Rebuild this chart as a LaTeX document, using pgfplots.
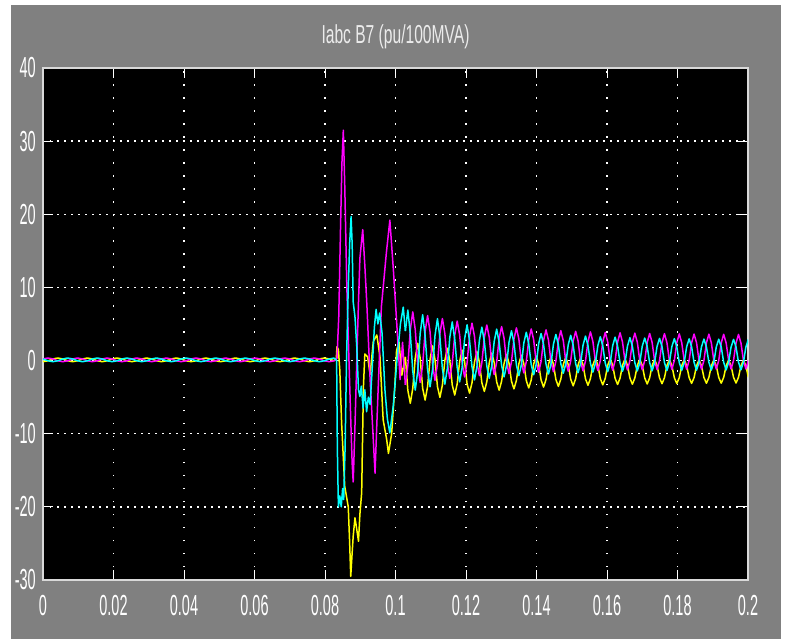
\documentclass[border=0pt]{standalone}
\usepackage{fontspec}
\setmainfont{Liberation Sans}
\newfontfamily\titlefont[FakeStretch=0.6]{Liberation Sans}
\newfontfamily\tickfont[FakeStretch=0.5]{Liberation Sans}
\usepackage{pgfplots}
\usepackage{pgfplotstable}
\pgfplotsset{compat=1.18}
\definecolor{scopegray}{RGB}{128,128,128}
\definecolor{sye}{RGB}{255,255,0}
\definecolor{sma}{RGB}{255,0,255}
\definecolor{scy}{RGB}{0,255,255}

\pgfplotstableread{
t ma cy ye
0.0000 0.22 0.22 -0.15
0.0014 0.35 -0.03 -0.03
0.0028 0.22 -0.15 0.22
0.0042 -0.03 -0.03 0.35
0.0056 -0.15 0.22 0.22
0.0070 -0.03 0.35 -0.03
0.0084 0.22 0.22 -0.15
0.0098 0.35 -0.03 -0.03
0.0112 0.22 -0.15 0.22
0.0126 -0.03 -0.03 0.35
0.0140 -0.15 0.22 0.22
0.0154 -0.03 0.35 -0.03
0.0168 0.22 0.22 -0.15
0.0182 0.35 -0.03 -0.03
0.0196 0.22 -0.15 0.22
0.0210 -0.03 -0.03 0.35
0.0224 -0.15 0.22 0.22
0.0238 -0.03 0.35 -0.03
0.0252 0.22 0.22 -0.15
0.0266 0.35 -0.03 -0.03
0.0280 0.22 -0.15 0.22
0.0294 -0.03 -0.03 0.35
0.0308 -0.15 0.22 0.22
0.0322 -0.03 0.35 -0.03
0.0336 0.22 0.22 -0.15
0.0350 0.35 -0.03 -0.03
0.0364 0.22 -0.15 0.22
0.0378 -0.03 -0.03 0.35
0.0392 -0.15 0.22 0.22
0.0406 -0.03 0.35 -0.03
0.0420 0.22 0.22 -0.15
0.0434 0.35 -0.03 -0.03
0.0448 0.22 -0.15 0.22
0.0462 -0.03 -0.03 0.35
0.0476 -0.15 0.22 0.22
0.0490 -0.03 0.35 -0.03
0.0504 0.22 0.22 -0.15
0.0518 0.35 -0.03 -0.03
0.0532 0.22 -0.15 0.22
0.0546 -0.03 -0.03 0.35
0.0560 -0.15 0.22 0.22
0.0574 -0.03 0.35 -0.03
0.0588 0.22 0.22 -0.15
0.0602 0.35 -0.03 -0.03
0.0616 0.22 -0.15 0.22
0.0630 -0.03 -0.03 0.35
0.0644 -0.15 0.22 0.22
0.0658 -0.03 0.35 -0.03
0.0672 0.22 0.22 -0.15
0.0686 0.35 -0.03 -0.03
0.0700 0.22 -0.15 0.22
0.0714 -0.03 -0.03 0.35
0.0728 -0.15 0.22 0.22
0.0742 -0.03 0.35 -0.03
0.0756 0.22 0.22 -0.15
0.0770 0.35 -0.03 -0.03
0.0784 0.22 -0.15 0.22
0.0798 -0.03 -0.03 0.35
0.0812 -0.15 0.22 0.22
0.0826 -0.03 0.35 -0.03
}\prefault

\pgfplotstableread{
t v
0.0826 -0.03
0.0834 0.3
0.0839 6
0.0844 18
0.0848 27
0.0852 31.5
0.0856 24
0.0862 10
0.0868 0
0.0873 -8
0.0877 -14
0.0880 -16.6
0.0885 -9
0.0891 1.4
0.0895 8
0.0899 14
0.0907 17.9
0.0913 13
0.0919 7.4
0.0928 -2.6
0.0935 -9
0.0942 -15.4
0.0946 -10
0.0951 -3.6
0.0960 7.4
0.0967 11
0.0974 14.7
0.0984 19.2
0.0994 12.4
0.1003 5.5
0.1013 -2.6
0.1020 2.5
0.1028 -3.33
}\trma

\pgfplotstableread{
t v
0.0826 0.35
0.0833 0
0.0835 -12
0.0838 -20
0.0842 -18.5
0.0846 -20
0.0850 -17.5
0.0853 -19
0.0857 -12
0.0861 0
0.0866 10
0.0870 16
0.0874 19.7
0.0877 16
0.0880 8
0.0885 6
0.0890 2
0.0895 -4
0.0899 -4.9
0.0903 -3.5
0.0908 -6.5
0.0913 -4
0.0918 -7
0.0923 -5
0.0928 -6
0.0934 -1
0.0940 4.5
0.0945 7
0.0950 5
0.0955 6.5
0.0962 3.7
0.0970 -4
0.0977 -8
0.0984 -9.9
0.0994 -6
0.1004 0
0.1014 5
0.1022 7.3
0.1028 4.04
}\trcy

\pgfplotstableread{
t v
0.0826 -0.03
0.0832 0.3
0.0834 1.9
0.0838 1.5
0.0842 -1.3
0.0847 -8.4
0.0856 -17.2
0.0866 -20
0.0870 -25
0.0873 -29.5
0.0877 -26.3
0.0880 -24
0.0885 -21.5
0.0888 -22.4
0.0895 -24.7
0.0899 -21
0.0904 -18.1
0.0909 -3.6
0.0913 0.9
0.0921 0.5
0.0928 -1.9
0.0937 2.6
0.0947 3.5
0.0956 0.5
0.0965 -8.1
0.0975 -10.8
0.0980 -12.7
0.0989 -10
0.0998 -3.6
0.1003 1.4
0.1010 2.5
0.1018 -2
0.1028 0.51
}\trye

\pgfplotstableread{
t ma cy ye
0.1028 -3.33 4.04 0.51
0.1035 -0.69 6.90 -4.07
0.1042 4.24 3.70 -5.84
0.1049 6.65 -1.46 -3.79
0.1056 4.24 -4.03 0.31
0.1063 -0.58 -1.46 2.36
0.1070 -2.99 3.70 0.31
0.1077 -0.58 6.27 -3.79
0.1084 3.95 3.40 -5.40
0.1091 6.16 -1.26 -3.55
0.1098 3.95 -3.59 0.15
0.1105 -0.49 -1.26 2.00
0.1112 -2.70 3.40 0.15
0.1119 -0.49 5.73 -3.55
0.1126 3.70 3.16 -5.03
0.1133 5.75 -1.10 -3.35
0.1140 3.70 -3.22 0.01
0.1147 -0.40 -1.10 1.69
0.1154 -2.45 3.16 0.01
0.1161 -0.40 5.28 -3.35
0.1168 3.49 2.94 -4.71
0.1175 5.40 -0.96 -3.18
0.1182 3.49 -2.91 -0.11
0.1189 -0.33 -0.96 1.43
0.1196 -2.24 2.94 -0.11
0.1203 -0.33 4.89 -3.18
0.1210 3.32 2.77 -4.45
0.1217 5.11 -0.85 -3.04
0.1224 3.32 -2.65 -0.21
0.1231 -0.28 -0.85 1.21
0.1238 -2.07 2.77 -0.21
0.1245 -0.28 4.57 -3.04
0.1252 3.17 2.62 -4.22
0.1259 4.86 -0.74 -2.91
0.1266 3.17 -2.42 -0.29
0.1273 -0.23 -0.74 1.02
0.1280 -1.92 2.62 -0.29
0.1287 -0.23 4.30 -2.91
0.1294 3.04 2.50 -4.04
0.1301 4.65 -0.66 -2.82
0.1308 3.04 -2.23 -0.37
0.1315 -0.18 -0.66 0.86
0.1322 -1.79 2.50 -0.37
0.1329 -0.18 4.07 -2.82
0.1336 2.93 2.39 -3.87
0.1343 4.47 -0.59 -2.72
0.1350 2.93 -2.07 -0.42
0.1357 -0.15 -0.59 0.73
0.1364 -1.69 2.39 -0.42
0.1371 -0.15 3.87 -2.72
0.1378 2.84 2.29 -3.74
0.1385 4.32 -0.53 -2.65
0.1392 2.84 -1.94 -0.47
0.1399 -0.12 -0.53 0.62
0.1406 -1.60 2.29 -0.47
0.1413 -0.12 3.70 -2.65
0.1420 2.77 2.22 -3.62
0.1427 4.20 -0.48 -2.59
0.1434 2.77 -1.83 -0.52
0.1441 -0.09 -0.48 0.52
0.1448 -1.52 2.22 -0.52
0.1455 -0.09 3.57 -2.59
0.1462 2.71 2.16 -3.53
0.1469 4.09 -0.44 -2.54
0.1476 2.71 -1.73 -0.55
0.1483 -0.07 -0.44 0.45
0.1490 -1.45 2.16 -0.55
0.1497 -0.07 3.45 -2.54
0.1504 2.65 2.10 -3.45
0.1511 4.00 -0.40 -2.50
0.1518 2.65 -1.65 -0.59
0.1525 -0.05 -0.40 0.37
0.1532 -1.40 2.10 -0.59
0.1539 -0.05 3.35 -2.50
0.1546 2.60 2.05 -3.38
0.1553 3.92 -0.37 -2.46
0.1560 2.60 -1.58 -0.61
0.1567 -0.04 -0.37 0.32
0.1574 -1.36 2.05 -0.61
0.1581 -0.04 3.26 -2.46
0.1588 2.56 2.02 -3.32
0.1595 3.85 -0.34 -2.43
0.1602 2.56 -1.52 -0.64
0.1609 -0.02 -0.34 0.26
0.1616 -1.31 2.02 -0.64
0.1623 -0.02 3.20 -2.43
0.1630 2.53 1.98 -3.27
0.1637 3.80 -0.32 -2.40
0.1644 2.53 -1.47 -0.65
0.1651 -0.01 -0.32 0.23
0.1658 -1.28 1.98 -0.65
0.1665 -0.01 3.13 -2.40
0.1672 2.50 1.96 -3.23
0.1679 3.75 -0.30 -2.38
0.1686 2.50 -1.42 -0.67
0.1693 0.00 -0.30 0.19
0.1700 -1.25 1.96 -0.67
0.1707 0.00 3.08 -2.38
0.1714 2.48 1.93 -3.20
0.1721 3.71 -0.29 -2.36
0.1728 2.48 -1.40 -0.68
0.1735 0.00 -0.29 0.16
0.1742 -1.23 1.93 -0.68
0.1749 0.00 3.04 -2.36
0.1756 2.46 1.91 -3.16
0.1763 3.68 -0.27 -2.34
0.1770 2.46 -1.36 -0.69
0.1777 0.02 -0.27 0.14
0.1784 -1.20 1.91 -0.69
0.1791 0.02 3.00 -2.34
0.1798 2.44 1.90 -3.14
0.1805 3.65 -0.26 -2.33
0.1812 2.44 -1.33 -0.70
0.1819 0.02 -0.26 0.12
0.1826 -1.19 1.90 -0.70
0.1833 0.02 2.97 -2.33
0.1840 2.43 1.88 -3.12
0.1847 3.63 -0.26 -2.32
0.1854 2.43 -1.32 -0.71
0.1861 0.03 -0.26 0.10
0.1868 -1.17 1.88 -0.71
0.1875 0.03 2.94 -2.32
0.1882 2.42 1.87 -3.10
0.1889 3.61 -0.25 -2.31
0.1896 2.42 -1.30 -0.72
0.1903 0.03 -0.25 0.08
0.1910 -1.17 1.87 -0.72
0.1917 0.03 2.92 -2.31
0.1924 2.41 1.86 -3.09
0.1931 3.59 -0.24 -2.30
0.1938 2.41 -1.28 -0.72
0.1945 0.04 -0.24 0.07
0.1952 -1.15 1.86 -0.72
0.1959 0.04 2.90 -2.30
0.1966 2.40 1.85 -3.07
0.1973 3.58 -0.23 -2.29
0.1980 2.40 -1.27 -0.72
0.1987 0.04 -0.23 0.07
0.1994 -1.14 1.85 -0.72
0.2001 0.04 2.89 -2.29
}\tail

\begin{document}
\begin{tikzpicture}
\fill[white] (-43pt,-60pt) rectangle (743pt,580pt);
\fill[scopegray] (-32pt,-59pt) rectangle (738pt,575pt);
\begin{axis}[
  at={(0pt,0pt)}, anchor=south west,
  scale only axis, width=705pt, height=512pt,
  xmin=0, xmax=0.2, ymin=-30, ymax=40,
  axis background/.style={fill=black},
  axis line style={draw=white!85!black, line width=1.5pt},
  xtick={0,0.02,0.04,0.06,0.08,0.1,0.12,0.14,0.16,0.18,0.2},
  xticklabels={0,0.02,0.04,0.06,0.08,0.1,0.12,0.14,0.16,0.18,0.2},
  ytick={-30,-20,-10,0,10,20,30,40},
  yticklabels={-30,-20,-10,0,10,20,30,40},
  scaled x ticks=false, scaled y ticks=false,
  tick align=inside, major tick length=10pt,
  tick style={white, line width=1pt},
  xmajorgrids, ymajorgrids,
  x grid style={white, line width=1.5pt, dash pattern=on 1.5pt off 11.5pt},
  y grid style={white, line width=1.5pt, dash pattern=on 1.5pt off 5.5pt},
  xticklabel style={font=\tickfont\fontsize{29}{30}\selectfont, text=white, anchor=north, inner sep=0pt, yshift=-15pt},
  yticklabel style={font=\tickfont\fontsize{29}{30}\selectfont, text=white, anchor=east, inner sep=0pt, xshift=-7pt},
  title={Iabc B7 (pu/100MVA)},
  title style={font=\titlefont\fontsize{26}{28}\selectfont, text=white!92!black, at={(0.5,1)}, anchor=base, inner sep=0pt, yshift=19pt},
]
\addplot[sye, line width=1.5pt, line join=round] table[x=t, y=ye] {\prefault};
\addplot[sma, line width=1.5pt, line join=round] table[x=t, y=ma] {\prefault};
\addplot[scy, line width=1.5pt, line join=round] table[x=t, y=cy] {\prefault};
\addplot[sye, line width=1.5pt, line join=round] table[x=t, y=v] {\trye};
\addplot[sma, line width=1.5pt, line join=round] table[x=t, y=v] {\trma};
\addplot[scy, line width=1.5pt, line join=round] table[x=t, y=v] {\trcy};
\addplot[sye, line width=1.5pt, line join=round] table[x=t, y=ye] {\tail};
\addplot[sma, line width=1.5pt, line join=round] table[x=t, y=ma] {\tail};
\addplot[scy, line width=1.5pt, line join=round] table[x=t, y=cy] {\tail};
\end{axis}
\pgfresetboundingbox
\path[use as bounding box] (-43pt,-60pt) rectangle (743pt,580pt);
\end{tikzpicture}
\end{document}
